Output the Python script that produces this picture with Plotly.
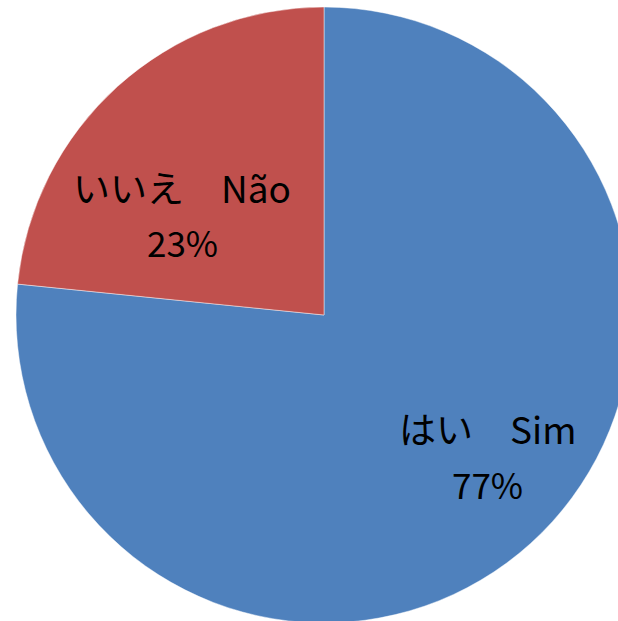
import plotly.graph_objects as go

labels_jp = ["はい", "いいえ"]
labels_pt = ["Sim", "Não"]
values = [76.6, 23.4]
colors = ["#4F81BD", "#C0504D"]

W, H = 640, 640
total = sum(values)

fig = go.Figure(go.Pie(
    labels=[f"{j}　{p}" for j, p in zip(labels_jp, labels_pt)],
    values=values,
    sort=False,
    direction="clockwise",
    rotation=0,
    textinfo="none",
    hoverinfo="label+percent",
    marker=dict(colors=colors, line=dict(color="rgba(255,255,255,0.45)", width=1)),
    domain=dict(x=[16 / W, 632 / W], y=[1 - 623 / H, 1 - 7 / H]),
    showlegend=False,
))

# label placements (pixel centres) for each slice: line1, line2
label_pos = [((488, 428), (487, 483)), ((182, 187), (182, 241))]
font_family = "Noto Sans CJK JP"
for j, p, v, (l1, l2) in zip(labels_jp, labels_pt, values, label_pos):
    pct = f"{round(v / total * 100)}%"
    fig.add_annotation(x=l1[0] / W, y=1 - l1[1] / H, xref="paper", yref="paper",
                       text=f"{j}　{p}", showarrow=False, xanchor="center", yanchor="middle",
                       font=dict(family=font_family, size=37, color="#000000"))
    fig.add_annotation(x=l2[0] / W, y=1 - l2[1] / H, xref="paper", yref="paper",
                       text=pct, showarrow=False, xanchor="center", yanchor="middle",
                       font=dict(family=font_family, size=35, color="#000000"))

fig.update_layout(
    width=W, height=H,
    margin=dict(l=0, r=0, t=0, b=0),
    paper_bgcolor="white",
    plot_bgcolor="white",
)

fig.write_html("out.html", config={"displayModeBar": False},
               post_script="document.body.style.margin='0';document.body.style.overflow='hidden';")
